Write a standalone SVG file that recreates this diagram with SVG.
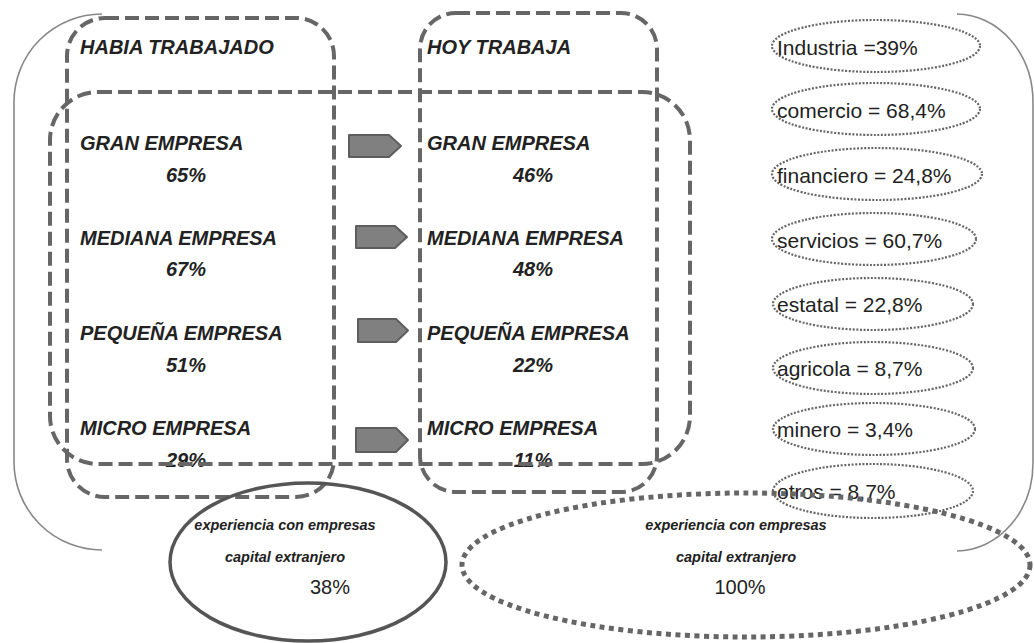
<svg xmlns="http://www.w3.org/2000/svg" width="1034" height="643" viewBox="0 0 1034 643">
<style>
.bg{fill:#fff}
.lbl{font-family:"Liberation Sans",Arial,sans-serif;font-size:20px;font-weight:bold;font-style:italic;fill:#222}
.pct{font-family:"Liberation Sans",Arial,sans-serif;font-size:20px;font-weight:bold;font-style:italic;fill:#222;text-anchor:middle}
.sec{font-family:"Liberation Sans",Arial,sans-serif;font-size:21px;fill:#222}
.exp{font-family:"Liberation Sans",Arial,sans-serif;font-size:14.5px;font-weight:bold;font-style:italic;fill:#222;text-anchor:middle}
.big{font-family:"Liberation Sans",Arial,sans-serif;font-size:20px;fill:#222;text-anchor:middle}
.dash{fill:none;stroke:#666;stroke-width:4;stroke-dasharray:14 6}
.dot{fill:none;stroke:#666;stroke-width:2.2;stroke-dasharray:2 1.6}
.bigdot{fill:none;stroke:#666;stroke-width:5;stroke-dasharray:5 4.5}
.brk{fill:none;stroke:#888;stroke-width:1.6}
.arr{fill:#808080;stroke:#5e5e5e;stroke-width:2;stroke-linejoin:round}
</style>
<rect class="bg" x="0" y="0" width="1034" height="643"/>

<g id="bracket-left"><path class="brk" d="M102,14 A88,88 0 0 0 14,102 L14,462 A88,88 0 0 0 102,550"/></g>
<g id="bracket-right"><path class="brk" d="M957,14 A77,88 0 0 1 1033,102 L1033,463 A77,88 0 0 1 957,551"/></g>

<g id="habia-trabajado">
<text class="lbl" x="80" y="54">HABIA TRABAJADO</text>
<text class="lbl" x="80" y="150">GRAN EMPRESA</text>
<text class="pct" x="186" y="182">65%</text>
<text class="lbl" x="80" y="245">MEDIANA EMPRESA</text>
<text class="pct" x="186" y="276">67%</text>
<text class="lbl" x="80" y="340">PEQUEÑA EMPRESA</text>
<text class="pct" x="186" y="372">51%</text>
<text class="lbl" x="80" y="435">MICRO EMPRESA</text>
<text class="pct" x="186" y="467">29%</text>
<rect class="dash" x="67" y="18" width="267" height="479" rx="38" ry="38"/>
</g>

<g id="hoy-trabaja">
<text class="lbl" x="427" y="54">HOY TRABAJA</text>
<text class="lbl" x="427" y="150">GRAN EMPRESA</text>
<text class="pct" x="533" y="182">46%</text>
<text class="lbl" x="427" y="245">MEDIANA EMPRESA</text>
<text class="pct" x="533" y="276">48%</text>
<text class="lbl" x="427" y="340">PEQUEÑA EMPRESA</text>
<text class="pct" x="533" y="372">22%</text>
<text class="lbl" x="427" y="435">MICRO EMPRESA</text>
<text class="pct" x="533" y="467">11%</text>
<rect class="dash" x="420" y="13" width="237" height="479" rx="36" ry="36"/>
</g>

<g id="tamano-empresa">
<rect class="dash" x="50" y="92" width="640" height="372" rx="48" ry="48"/>
</g>

<g id="connectors">
<path class="arr" d="M349,135 L389,135 L401,146 L389,157 L349,157 Z"/>
<path class="arr" d="M356,226 L395,226 L407,237 L395,248 L356,248 Z"/>
<path class="arr" d="M358,319 L396,319 L408,330.5 L396,342 L358,342 Z"/>
<path class="arr" d="M356,428 L396,428 L408,440 L396,452 L356,452 Z"/>
</g>

<g id="sector-industria"><ellipse class="dot" cx="876" cy="46" rx="104" ry="26"/><text class="sec" x="777" y="55">Industria =39%</text></g>
<g id="sector-comercio"><ellipse class="dot" cx="876" cy="109" rx="104" ry="26"/><text class="sec" x="777" y="118">comercio = 68,4%</text></g>
<g id="sector-financiero"><ellipse class="dot" cx="877" cy="174" rx="105" ry="26"/><text class="sec" x="777" y="183">financiero = 24,8%</text></g>
<g id="sector-servicios"><ellipse class="dot" cx="874" cy="239" rx="102" ry="26"/><text class="sec" x="777" y="248">servicios = 60,7%</text></g>
<g id="sector-estatal"><ellipse class="dot" cx="873" cy="304" rx="100" ry="26"/><text class="sec" x="777" y="312">estatal = 22,8%</text></g>
<g id="sector-agricola"><ellipse class="dot" cx="873" cy="368" rx="100" ry="26"/><text class="sec" x="777" y="376">agricola = 8,7%</text></g>
<g id="sector-minero"><ellipse class="dot" cx="874" cy="429" rx="101" ry="26"/><text class="sec" x="777" y="437">minero = 3,4%</text></g>
<g id="sector-otros"><ellipse class="dot" cx="873" cy="491" rx="100" ry="27"/><text class="sec" x="777" y="499">otros = 8,7%</text></g>

<g id="experiencia-38">
<ellipse cx="308" cy="562" rx="138" ry="79" fill="none" stroke="#555" stroke-width="3.5"/>
<text class="exp" x="285" y="530">experiencia con empresas</text>
<text class="exp" x="285" y="562">capital extranjero</text>
<text class="big" x="330" y="594">38%</text>
</g>

<g id="experiencia-100">
<ellipse class="bigdot" cx="746" cy="565" rx="284" ry="72"/>
<text class="exp" x="736" y="530">experiencia con empresas</text>
<text class="exp" x="736" y="562">capital extranjero</text>
<text class="big" x="740" y="594">100%</text>
</g>
</svg>
